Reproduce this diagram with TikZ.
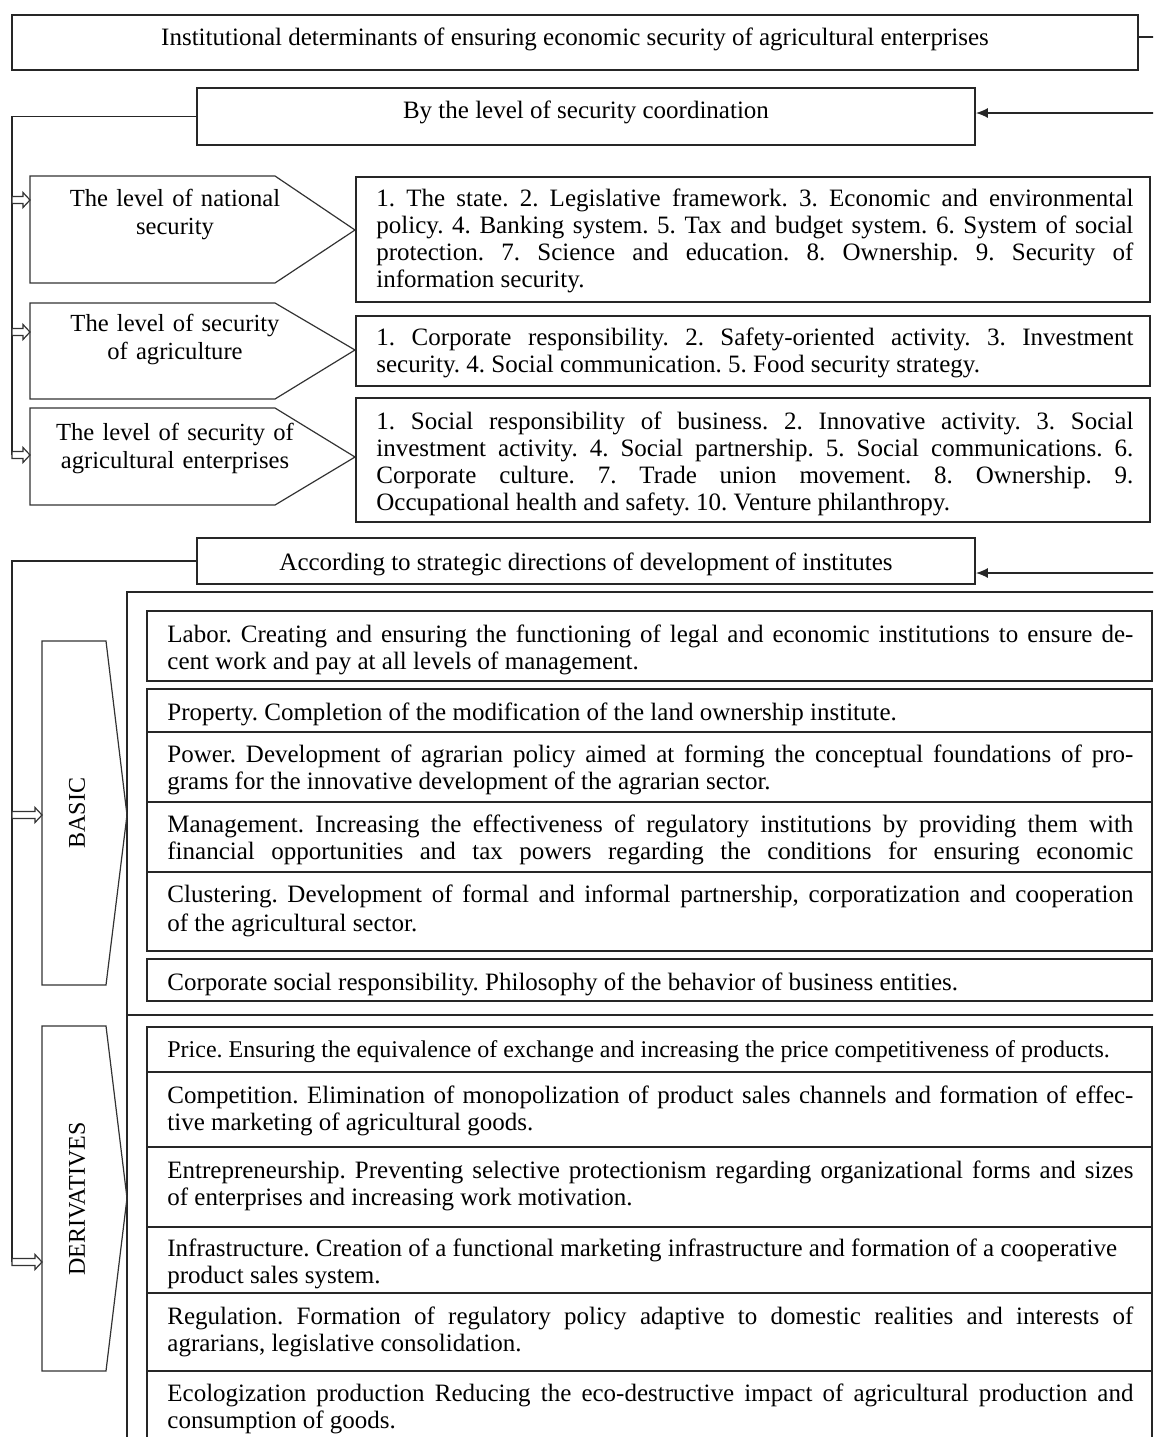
\documentclass[tikz,border=0pt]{standalone}
\usepackage{fontspec}
\setmainfont{Liberation Serif}
\usetikzlibrary{arrows.meta,fit}
\frenchspacing
\begin{document}
\frenchspacing
\begin{tikzpicture}[x=0.5pt,y=-0.5pt,
  frame/.style={draw=black!85, line width=0.9pt, inner sep=0pt},
  thinline/.style={draw=black!80, line width=0.6pt},
  conn/.style={draw=black!85, line width=0.7pt},
  txt/.style={inner sep=0pt, font=\fontsize{12.5}{13.5}\selectfont, align=justify, anchor=base west, yshift=-1.5pt},
  wide/.style={txt, text width=483pt},
  narrow/.style={txt, text width=378.5pt},
  chevtxt/.style={inner sep=0pt, font=\fontsize{12.3}{14}\selectfont, align=center, anchor=base, text width=140pt, yshift=-1.5pt},
  headtxt/.style={inner sep=0pt, font=\fontsize{12.5}{13.5}\selectfont, anchor=base, yshift=-1.5pt},
  sidetxt/.style={inner sep=0pt, font=\fontsize{12}{13.5}\selectfont, rotate=90},
  pics/harrow/.style={code={\draw[thinline, fill=white] (0,0) -- (-7,-7.5) -- (-7,-3.5) -- (-#1,-3.5) -- (-#1,3.5) -- (-7,3.5) -- (-7,7.5) -- cycle;}}
]
\useasboundingbox (0,0) rectangle (1153,1437);
\clip (0,0) rectangle (1153,1437);

% ---------- title ----------
\node[frame, fit={(12,15) (1138,70)}] (title) {};
\node[headtxt] (titletxt) at (575,42) {Institutional determinants of ensuring economic security of agricultural enterprises};
\coordinate (r0) at (1160,37);
\draw[conn] (r0 -| title.east) -- (r0);

% ---------- by the level ----------
\node[frame, fit={(197,88) (975,145)}] (lvl) {};
\node[headtxt] (lvltxt) at (586,115) {By the level of security coordination};
\coordinate (r1) at (1160,113);
\draw[conn, -{Latex[length=6pt,width=5pt]}] (r1) -- (r1 -| lvl.east);
\coordinate (v1bot) at (12,455);
\draw[conn] (lvl.west) -| (v1bot);

% chevrons
\draw[thinline] (30,176) -- (275,176) -- (355,230) -- (275,283) -- (30,283) -- cycle;
\coordinate (c1) at (30,200);
\node[chevtxt] (c1txt) at (175,203) {The level of national\\security};
\draw[thinline] (30,303) -- (275,303) -- (355,350) -- (275,399) -- (30,399) -- cycle;
\coordinate (c2) at (30,332);
\node[chevtxt] (c2txt) at (175,328) {The level of security\\of agriculture};
\draw[thinline] (30,408) -- (275,408) -- (355,457) -- (275,505) -- (30,505) -- cycle;
\coordinate (c3) at (30,455);
\node[chevtxt] (c3txt) at (175,437) {The level of security of\\agricultural enterprises};
\pic at (c1) {harrow=18};
\pic at (c2) {harrow=18};
\pic at (c3) {harrow=18};

% right boxes
\node[frame, fit={(356,177) (1150,302)}] (b1) {};
\node[narrow] (b1txt) at (376,203) {1. The state. 2. Legislative framework. 3. Economic and environmental\linebreak policy. 4. Banking system. 5. Tax and budget system. 6. System of social\linebreak protection. 7. Science and education. 8. Ownership. 9. Security of\linebreak information security.};
\node[frame, fit={(356,316) (1150,386)}] (b2) {};
\node[narrow] (b2txt) at (376,342) {1. Corporate responsibility. 2. Safety-oriented activity. 3. Investment\linebreak security. 4. Social communication. 5. Food security strategy.};
\node[frame, fit={(356,398) (1150,522)}] (b3) {};
\node[narrow] (b3txt) at (376,426) {1. Social responsibility of business. 2. Innovative activity. 3. Social\linebreak investment activity. 4. Social partnership. 5. Social communications. 6.\linebreak Corporate culture. 7. Trade union movement. 8. Ownership. 9.\linebreak Occupational health and safety. 10. Venture philanthropy.};

% ---------- strategic directions ----------
\node[frame, fit={(197,538) (975,584)}] (strat) {};
\node[headtxt] (strattxt) at (586,567) {According to strategic directions of development of institutes};
\coordinate (r2) at (1160,573);
\draw[conn, -{Latex[length=6pt,width=5pt]}] (r2) -- (r2 -| strat.east);
\coordinate (v2bot) at (12,1262);
\draw[conn] (strat.west) -| (v2bot);

% frames
\draw[frame] (1160,592) -- (127,592) -- (127,1450);
\draw[frame] (127,1015) -- (1160,1015);

% BASIC / DERIVATIVES chevrons
\draw[thinline] (42,641) -- (106,641) -- (127,815) -- (106,985) -- (42,985) -- cycle;
\node[sidetxt] (basic) at (77,813) {BASIC};
\coordinate (cb) at (42,815);
\pic at (cb) {harrow=30};
\draw[thinline] (42,1026) -- (106,1026) -- (127,1198) -- (106,1371) -- (42,1371) -- cycle;
\node[sidetxt] (deriv) at (77,1199) {DERIVATIVES};
\coordinate (cd) at (42,1262);
\pic at (cd) {harrow=30};

% basic boxes
\node[frame, fit={(147,611) (1152,681)}] (lab) {};
\node[wide] (labtxt) at (167,639) {Labor. Creating and ensuring the functioning of legal and economic institutions to ensure de-\linebreak cent work and pay at all levels of management.};
\node[frame, fit={(147,689) (1152,732)}] (prop) {};
\node[wide] (proptxt) at (167,717) {Property. Completion of the modification of the land ownership institute.};
\node[frame, fit={(147,732) (1152,802)}] (pow) {};
\node[wide] (powtxt) at (167,759) {Power. Development of agrarian policy aimed at forming the conceptual foundations of pro-\linebreak grams for the innovative development of the agrarian sector.};
\node[frame, fit={(147,802) (1152,872)}] (man) {};
\node[wide] (mantxt) at (167,829) {Management. Increasing the effectiveness of regulatory institutions by providing them with\linebreak financial opportunities and tax powers regarding the conditions for ensuring economic\linebreak};
\node[frame, fit={(147,872) (1152,951)}] (clu) {};
\node[wide, font=\fontsize{12.5}{14.5}\selectfont] (clutxt) at (167,899) {Clustering. Development of formal and informal partnership, corporatization and cooperation\linebreak of the agricultural sector.};
\node[frame, fit={(147,959) (1152,1001)}] (csr) {};
\begin{scope}
\clip (147,959) rectangle (1152,1000);
\node[wide] (csrtxt) at (167,987) {Corporate social responsibility. Philosophy of the behavior of business entities.};
\end{scope}

% derivative boxes
\node[frame, fit={(147,1027) (1152,1072)}] (price) {};
\node[wide, font=\fontsize{12}{13}\selectfont] (pricetxt) at (167,1054) {Price. Ensuring the equivalence of exchange and increasing the price competitiveness of products.};
\node[frame, fit={(147,1072) (1152,1147)}] (comp) {};
\node[wide] (comptxt) at (167,1100) {Competition. Elimination of monopolization of product sales channels and formation of effec-\linebreak tive marketing of agricultural goods.};
\node[frame, fit={(147,1147) (1152,1227)}] (ent) {};
\node[wide] (enttxt) at (167,1175) {Entrepreneurship. Preventing selective protectionism regarding organizational forms and sizes\linebreak of enterprises and increasing work motivation.};
\node[frame, fit={(147,1227) (1152,1293)}] (inf) {};
\begin{scope}
\clip (147,1227) rectangle (1152,1292);
\node[wide] (inftxt) at (167,1253) {Infrastructure. Creation of a functional marketing infrastructure and formation of a cooperative\\product sales system.};
\end{scope}
\node[frame, fit={(147,1293) (1152,1371)}] (reg) {};
\node[wide] (regtxt) at (167,1321) {Regulation. Formation of regulatory policy adaptive to domestic realities and interests of\linebreak agrarians, legislative consolidation.};
\node[frame, fit={(147,1371) (1152,1470)}] (eco) {};
\node[wide] (ecotxt) at (167,1398) {Ecologization production Reducing the eco-destructive impact of agricultural production and\linebreak consumption of goods.};
\end{tikzpicture}
\end{document}
